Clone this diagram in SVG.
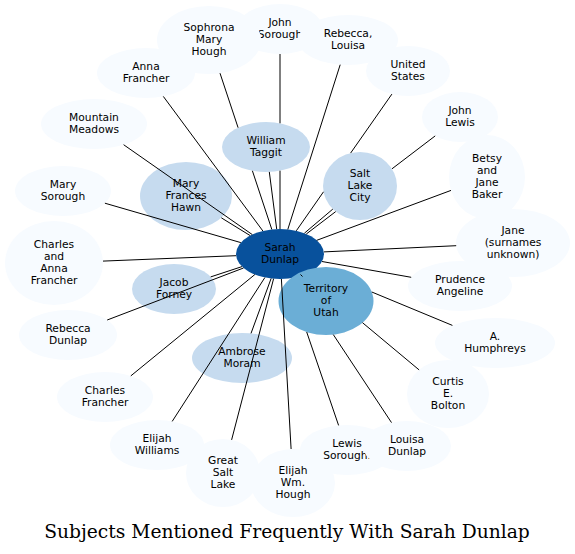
<svg xmlns="http://www.w3.org/2000/svg" width="575" height="554" viewBox="0 0 575 554">
<style>
.o{fill:#f7fbff}
.i{fill:#c6dbef}
.t{fill:#6baed6}
.c{fill:#08519c}
text{font-family:"DejaVu Sans",sans-serif;font-size:10.7px;text-anchor:middle;fill:#000}
text.title{font-family:"DejaVu Serif",serif;font-size:18.7px}
#connectors line{stroke:#000;stroke-width:1;fill:none}
</style>
<rect width="575" height="554" fill="#fff"/>
<g id="nodes">
<g id="n-john-sorough"><ellipse class="o" cx="280" cy="29" rx="43" ry="25"/><text><tspan x="280" y="26.3">John</tspan><tspan x="280" y="38.3">Sorough</tspan></text></g>
<g id="n-sophrona"><ellipse class="o" cx="209" cy="40" rx="52" ry="34"/><text><tspan x="209" y="31.3">Sophrona</tspan><tspan x="209" y="43.3">Mary</tspan><tspan x="209" y="55.3">Hough</tspan></text></g>
<g id="n-rebecca-louisa"><ellipse class="o" cx="348" cy="40" rx="50" ry="25"/><text><tspan x="348" y="37.3">Rebecca,</tspan><tspan x="348" y="49.3">Louisa</tspan></text></g>
<g id="n-anna-francher"><ellipse class="o" cx="146" cy="73" rx="49" ry="25"/><text><tspan x="146" y="70.3">Anna</tspan><tspan x="146" y="82.3">Francher</tspan></text></g>
<g id="n-united-states"><ellipse class="o" cx="408" cy="71" rx="42" ry="25"/><text><tspan x="408" y="68.3">United</tspan><tspan x="408" y="80.3">States</tspan></text></g>
<g id="n-john-lewis"><ellipse class="o" cx="460" cy="117" rx="38" ry="25"/><text><tspan x="460" y="114.3">John</tspan><tspan x="460" y="126.3">Lewis</tspan></text></g>
<g id="n-betsy"><ellipse class="o" cx="487" cy="177" rx="38" ry="42"/><text><tspan x="487" y="162.3">Betsy</tspan><tspan x="487" y="174.3">and</tspan><tspan x="487" y="186.3">Jane</tspan><tspan x="487" y="198.3">Baker</tspan></text></g>
<g id="n-jane"><ellipse class="o" cx="513" cy="243" rx="57" ry="34"/><text><tspan x="513" y="234.3">Jane</tspan><tspan x="513" y="246.3">(surnames</tspan><tspan x="513" y="258.3">unknown)</tspan></text></g>
<g id="n-prudence"><ellipse class="o" cx="460" cy="286" rx="52" ry="25"/><text><tspan x="460" y="283.3">Prudence</tspan><tspan x="460" y="295.3">Angeline</tspan></text></g>
<g id="n-humphreys"><ellipse class="o" cx="495" cy="343" rx="60" ry="25"/><text><tspan x="495" y="340.3">A.</tspan><tspan x="495" y="352.3">Humphreys</tspan></text></g>
<g id="n-curtis"><ellipse class="o" cx="448" cy="394" rx="41" ry="34"/><text><tspan x="448" y="385.3">Curtis</tspan><tspan x="448" y="397.3">E.</tspan><tspan x="448" y="409.3">Bolton</tspan></text></g>
<g id="n-lewis-sorough"><ellipse class="o" cx="347" cy="450" rx="47" ry="25"/><text><tspan x="347" y="447.3">Lewis</tspan><tspan x="347" y="459.3">Sorough.</tspan></text></g>
<g id="n-louisa-dunlap"><ellipse class="o" cx="407" cy="446" rx="44" ry="25"/><text><tspan x="407" y="443.3">Louisa</tspan><tspan x="407" y="455.3">Dunlap</tspan></text></g>
<g id="n-elijah-wm-hough"><ellipse class="o" cx="293" cy="483" rx="42" ry="34"/><text><tspan x="293" y="474.3">Elijah</tspan><tspan x="293" y="486.3">Wm.</tspan><tspan x="293" y="498.3">Hough</tspan></text></g>
<g id="n-great-salt-lake"><ellipse class="o" cx="223" cy="473" rx="37" ry="34"/><text><tspan x="223" y="464.3">Great</tspan><tspan x="223" y="476.3">Salt</tspan><tspan x="223" y="488.3">Lake</tspan></text></g>
<g id="n-elijah-williams"><ellipse class="o" cx="157" cy="445" rx="47" ry="25"/><text><tspan x="157" y="442.3">Elijah</tspan><tspan x="157" y="454.3">Williams</tspan></text></g>
<g id="n-charles-francher"><ellipse class="o" cx="105" cy="397" rx="48" ry="25"/><text><tspan x="105" y="394.3">Charles</tspan><tspan x="105" y="406.3">Francher</tspan></text></g>
<g id="n-rebecca-dunlap"><ellipse class="o" cx="68" cy="335" rx="49" ry="25"/><text><tspan x="68" y="332.3">Rebecca</tspan><tspan x="68" y="344.3">Dunlap</tspan></text></g>
<g id="n-charles-anna"><ellipse class="o" cx="54" cy="263" rx="49" ry="42"/><text><tspan x="54" y="248.3">Charles</tspan><tspan x="54" y="260.3">and</tspan><tspan x="54" y="272.3">Anna</tspan><tspan x="54" y="284.3">Francher</tspan></text></g>
<g id="n-mary-sorough"><ellipse class="o" cx="63" cy="191" rx="48" ry="25"/><text><tspan x="63" y="188.3">Mary</tspan><tspan x="63" y="200.3">Sorough</tspan></text></g>
<g id="n-mountain-meadows"><ellipse class="o" cx="94" cy="124" rx="53" ry="25"/><text><tspan x="94" y="121.3">Mountain</tspan><tspan x="94" y="133.3">Meadows</tspan></text></g>
<g id="n-william-taggit"><ellipse class="i" cx="266" cy="147" rx="44" ry="25"/><text><tspan x="266" y="144.3">William</tspan><tspan x="266" y="156.3">Taggit</tspan></text></g>
<g id="n-salt-lake-city"><ellipse class="i" cx="360" cy="186" rx="37" ry="34"/><text><tspan x="360" y="177.3">Salt</tspan><tspan x="360" y="189.3">Lake</tspan><tspan x="360" y="201.3">City</tspan></text></g>
<g id="n-mary-frances-hawn"><ellipse class="i" cx="186" cy="196" rx="46" ry="34"/><text><tspan x="186" y="187.3">Mary</tspan><tspan x="186" y="199.3">Frances</tspan><tspan x="186" y="211.3">Hawn</tspan></text></g>
<g id="n-jacob-forney"><ellipse class="i" cx="174" cy="289" rx="42" ry="25"/><text><tspan x="174" y="286.3">Jacob</tspan><tspan x="174" y="298.3">Forney</tspan></text></g>
<g id="n-ambrose-moram"><ellipse class="i" cx="242" cy="358" rx="50" ry="25"/><text><tspan x="242" y="355.3">Ambrose</tspan><tspan x="242" y="367.3">Moram</tspan></text></g>
<g id="n-sarah-dunlap"><ellipse class="c" cx="280" cy="254" rx="44" ry="25"/><text><tspan x="280" y="251">Sarah</tspan><tspan x="280" y="263">Dunlap</tspan></text></g>
<g id="n-territory-utah"><ellipse class="t" cx="326" cy="301" rx="47.5" ry="34"/><text><tspan x="326" y="292.3">Territory</tspan><tspan x="326" y="304.3">of</tspan><tspan x="326" y="316.3">Utah</tspan></text></g>
</g>
<g id="connectors">
<line x1="262.9" y1="231" x2="163.3" y2="96.4"/>
<line x1="271.8" y1="229.4" x2="252.4" y2="170.8"/>
<line x1="238.1" y1="127.7" x2="220" y2="73.2"/>
<line x1="280" y1="229" x2="280" y2="170.7"/>
<line x1="280" y1="123.3" x2="280" y2="54"/>
<line x1="287.8" y1="229.4" x2="340.2" y2="64.7"/>
<line x1="296.3" y1="230.8" x2="323.5" y2="191.8"/>
<line x1="350.6" y1="153.1" x2="391.9" y2="94.1"/>
<line x1="306.3" y1="234" x2="335.7" y2="211.6"/>
<line x1="392" y1="168.8" x2="435.2" y2="135.9"/>
<line x1="316.8" y1="240.3" x2="451" y2="190.4"/>
<line x1="323.9" y1="251.9" x2="456.2" y2="245.7"/>
<line x1="322" y1="261.5" x2="411.2" y2="277.3"/>
<line x1="371.8" y1="292" x2="452.4" y2="325.4"/>
<line x1="362.5" y1="322.7" x2="419.1" y2="369.9"/>
<line x1="333.3" y1="334.6" x2="391.5" y2="422.6"/>
<line x1="306.7" y1="332" x2="338.6" y2="425.4"/>
<line x1="281.4" y1="279" x2="291.1" y2="449"/>
<line x1="273.6" y1="278.7" x2="231.6" y2="439.9"/>
<line x1="264.9" y1="277.5" x2="172.2" y2="421.4"/>
<line x1="254.9" y1="274.5" x2="130.8" y2="375.9"/>
<line x1="243.5" y1="268" x2="107.2" y2="320"/>
<line x1="236.1" y1="255.7" x2="103" y2="261.1"/>
<line x1="240.8" y1="242.6" x2="104.9" y2="203.2"/>
<line x1="252.3" y1="234.6" x2="123.6" y2="144.7"/>
<line x1="276.7" y1="229.1" x2="269.3" y2="171.9"/>
<line x1="304.4" y1="233.2" x2="332.8" y2="209.1"/>
<line x1="250.2" y1="235.6" x2="221.3" y2="217.8"/>
<line x1="242" y1="266.6" x2="210.7" y2="276.9"/>
<line x1="271.1" y1="278.5" x2="251" y2="333.4"/>
<line x1="300.5" y1="274.5" x2="302.5" y2="276.5"/>
</g>
<text class="title" x="287" y="538">Subjects Mentioned Frequently With Sarah Dunlap</text>
</svg>
